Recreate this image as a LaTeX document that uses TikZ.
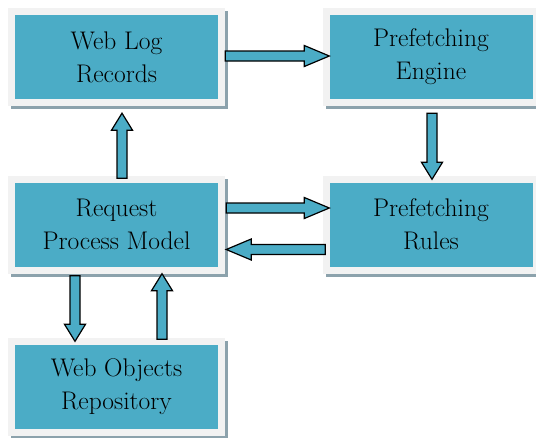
\documentclass[tikz,border=0pt]{standalone}
\usepackage{xcolor}
\definecolor{boxblue}{RGB}{75,172,198}
\definecolor{framegray}{RGB}{242,242,242}
\definecolor{shadowgray}{RGB}{140,162,172}
\usetikzlibrary{calc}

\begin{document}
\begin{tikzpicture}[x=1pt,y=-1pt,
  box/.style={fill=boxblue,minimum width=203pt,minimum height=84pt,inner sep=0pt,align=center,
    font=\fontsize{25.5}{33}\selectfont,
    preaction={fill=shadowgray,draw=shadowgray,line width=14pt,transform canvas={xshift=3pt,yshift=-3pt}},
    preaction={fill=framegray,draw=framegray,line width=14pt}},
  blockarrow/.style={draw=black,fill=boxblue,line width=1.2pt,line join=miter,
    to path={($(\tikztostart)!5pt!90:(\tikztotarget)$)
      -- ($(\tikztotarget)!#1!(\tikztostart)!5pt!90:(\tikztotarget)$)
      -- ($(\tikztotarget)!#1!(\tikztostart)!10.5pt!90:(\tikztotarget)$)
      -- (\tikztotarget)
      -- ($(\tikztotarget)!#1!(\tikztostart)!10.5pt!-90:(\tikztotarget)$)
      -- ($(\tikztotarget)!#1!(\tikztostart)!5pt!-90:(\tikztotarget)$)
      -- ($(\tikztostart)!5pt!-90:(\tikztotarget)$) -- cycle}},
  blockarrow/.default=17pt]
  \useasboundingbox (0,0) rectangle (536,437);
  % Blocks
  \node[box] (weblog) at (116.5,57) {Web Log\\Records};
  \node[box] (engine) at (431,57) {Prefetching\\Engine};
  \node[box] (rpm) at (116.5,224.5) {Request\\Process Model};
  \node[box] (rules) at (431,224.5) {Prefetching\\Rules};
  \node[box] (repo) at (116.5,386.5) {Web Objects\\Repository};
  % Horizontal arrows
  \draw[blockarrow=25pt] ([xshift=7pt,yshift=1pt]weblog.east) to ([yshift=1pt]engine.west);
  \draw[blockarrow=25pt] ([xshift=8pt,yshift=16.5pt]rpm.east) to ([yshift=16.5pt]rules.west);
  \draw[blockarrow=25pt] ([xshift=-4pt,yshift=-25pt]rules.west) to ([xshift=8pt,yshift=-25pt]rpm.east);
  % Vertical arrows
  \draw[blockarrow] ([xshift=1pt,yshift=-14pt]engine.south) to ([xshift=1pt,yshift=3pt]rules.north);
  \draw[blockarrow] ([xshift=5.5pt,yshift=4pt]rpm.north) to ([xshift=5.5pt,yshift=-14pt]weblog.south);
  \draw[blockarrow] ([xshift=-41.5pt,yshift=-9pt]rpm.south) to ([xshift=-41.5pt,yshift=3pt]repo.north);
  \draw[blockarrow] ([xshift=45.5pt,yshift=5pt]repo.north) to ([xshift=45.5pt,yshift=-7pt]rpm.south);
\end{tikzpicture}
\end{document}
